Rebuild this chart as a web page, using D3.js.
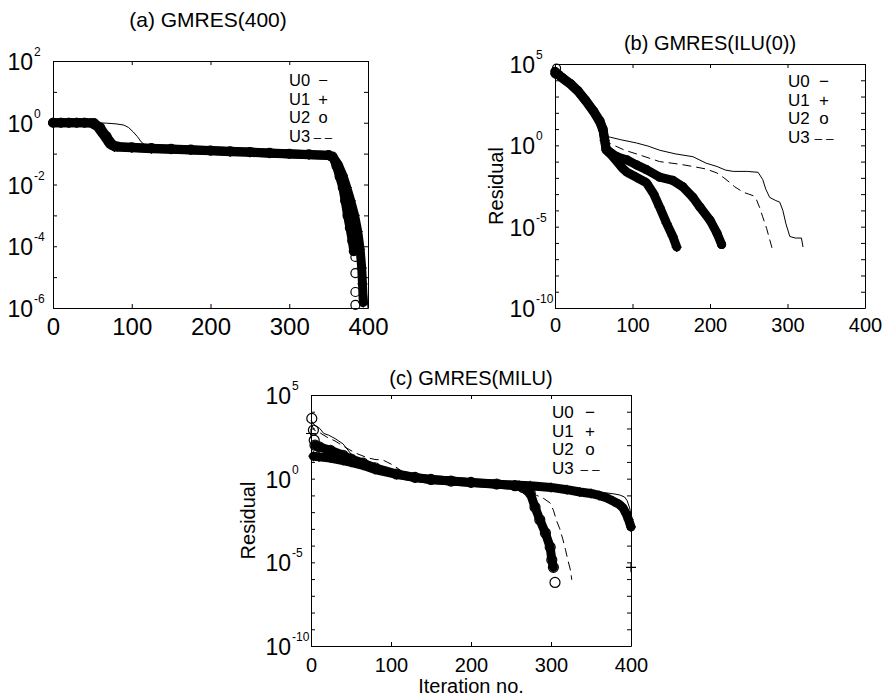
<!DOCTYPE html>
<html>
<head>
<meta charset="utf-8">
<script src="https://cdn.jsdelivr.net/npm/d3@7"></script>
<style>
  body { margin: 0; background: #fff; }
  svg  { display: block; }
  svg text { font-family: "Liberation Sans", Arial, sans-serif; }
</style>
</head>
<body>
<svg id="chart" width="883" height="698"></svg>
<script>
// x ticks shared by all three panels
const iterTicks = [0, 100, 200, 300, 400];
const legendNames = ['U0', 'U1', 'U2', 'U3'];
const legendMarks = ['\u2212', '+', 'o', '\u2013 \u2013'];

// (a) GMRES(400)  [iteration, residual]
const gmresU0 = [[0,1],[20,1],[40,1],[55,0.99],[68,0.97],[80,0.92],[90,0.84],[96,0.7],[102,0.5],[107,0.36],[112,0.24],[118,0.18],[150,0.145],[200,0.128],[250,0.113],[300,0.1],[350,0.09],[360,0.06],[370,0.02],[380,4e-3],[388,6e-4],[393,1e-4],[396,1.5e-5],[398,3e-6],[400,1e-6]];
const gmresU1 = [[0,1],[10,1],[20,1],[30,1],[40,1],[48,0.98],[56,0.75],[64,0.4],[72,0.2],[78,0.165],[100,0.155],[125,0.145],[150,0.138],[175,0.13],[200,0.123],[225,0.116],[250,0.11],[275,0.103],[300,0.097],[325,0.092],[350,0.087],[356,0.075],[362,0.045],[368,0.02],[373,8e-3],[378,3e-3],[383,1e-3],[387,3e-4],[390,8e-5],[392,2e-5],[393,6e-6],[394,1.5e-6]];
const gmresU2 = [[0,1],[10,1],[20,1],[30,1],[40,1],[52,0.98],[60,0.7],[68,0.36],[76,0.19],[82,0.17],[100,0.16],[125,0.15],[150,0.142],[175,0.134],[200,0.126],[225,0.119],[250,0.112],[275,0.105],[300,0.099],[325,0.094],[350,0.089],[355,0.08],[360,0.04],[364,0.018],[368,8e-3],[371,3e-3],[374,1e-3],[377,4e-4],[380,1.5e-4],[382,7e-5]];
const gmresU3 = [[0,1],[50,1],[58,0.7],[66,0.35],[74,0.19],[100,0.16],[200,0.125],[300,0.098],[352,0.088],[360,0.05],[368,0.015],[376,3e-3],[384,4e-4],[390,5e-5],[395,5e-6],[398,1e-6]];
const gmresU2Loose = [[384,4.5e-5],[384,1.35e-5],[384,3.3e-6],[384,1.26e-6]];

// (b) GMRES(ILU(0))
const iluU0 = [[0,3e4],[10,1.3e4],[20,6e3],[30,2e3],[40,520],[50,118],[58,28],[62,9],[66,3.5],[71,3.2],[85,2.2],[105,1.4],[120,0.9],[135,0.5],[155,0.3],[178,0.2],[195,0.08],[209,0.05],[220,0.03],[230,0.025],[248,0.025],[262,0.022],[268,8e-3],[272,2e-3],[277,6.3e-4],[285,4e-4],[290,3.2e-4],[294,1e-4],[298,1.5e-5],[303,2.5e-6],[310,2e-6],[318,2e-6],[320,5.6e-7]];
const iluU1 = [[0,2.5e4],[5,2e4],[10,1.26e4],[20,5.6e3],[30,2e3],[40,500],[50,112],[58,25],[62,8],[64,2],[66,0.5],[72,0.28],[80,0.1],[87,0.04],[93,0.022],[105,0.011],[118,5e-3],[127,1.1e-3],[135,1.6e-4],[144,1.6e-5],[152,2.5e-6],[157,5.6e-7]];
const iluU2 = [[0,3.5e4],[5,2.2e4],[10,1.4e4],[20,6.3e3],[30,2.2e3],[40,560],[50,126],[58,32],[62,10],[64,2.5],[66,0.63],[72,0.35],[80,0.2],[93,0.126],[105,0.063],[118,0.032],[135,0.011],[152,7e-3],[165,2.8e-3],[178,6.3e-4],[187,1.6e-4],[200,2.5e-5],[209,4e-6],[215,8e-7]];
const iluU3 = [[0,3e4],[20,6e3],[40,520],[58,27],[64,3],[68,1.5],[90,0.5],[110,0.25],[135,0.1],[160,0.07],[178,0.05],[195,0.035],[209,0.02],[218,0.01],[226,5e-3],[232,2.8e-3],[243,1.3e-3],[250,1e-3],[256,8e-4],[260,4.5e-4],[264,1.5e-4],[268,4e-5],[273,8e-6],[277,1.6e-6],[280,5e-7]];
const iluU2Loose = [[2,5.6e4]];

// (c) GMRES(MILU)
const miluU0 = [[0,3e3],[5,1.5e3],[11,1e3],[16,500],[22,400],[30,250],[40,120],[50,30],[65,9],[80,4],[107,1.9],[150,0.9],[200,0.6],[250,0.42],[300,0.3],[340,0.2],[360,0.16],[370,0.14],[380,0.12],[386,0.105],[392,0.08],[395,0.05],[398,0.02],[399,0.013],[400,5e-3]];
const miluU1 = [[3,22],[10,20],[24,17],[40,12],[50,9.5],[65,6.3],[80,3.5],[107,1.8],[130,1.15],[150,0.88],[175,0.72],[200,0.58],[232,0.46],[260,0.4],[274,0.38],[300,0.3],[320,0.22],[336,0.16],[350,0.13],[360,0.1],[370,0.07],[378,0.045],[385,0.03],[390,0.018],[394,8e-3],[397,3.5e-3],[400,1.3e-3]];
const miluU2 = [[5,100],[10,80],[24,50],[40,25],[50,15],[65,8.5],[80,4.5],[107,1.9],[130,1.2],[150,0.9],[175,0.72],[200,0.6],[232,0.48],[255,0.38],[265,0.3],[270,0.22],[274,0.14],[280,0.02],[286,3.5e-3],[293,5.6e-4],[299,8e-5],[301,1.4e-5],[303,5e-6]];
const miluU3 = [[0,2e3],[4,800],[10,600],[20,300],[30,180],[40,90],[55,35],[70,18],[80,14],[90,13],[103,6.3],[115,2.5],[130,1.5],[150,0.95],[200,0.62],[250,0.42],[268,0.35],[274,0.17],[282,0.1],[290,0.07],[299,0.035],[303,0.013],[307,3e-3],[311,1e-3],[315,2.2e-4],[318,6e-5],[321,1.4e-5],[324,4e-6],[326,9e-7]];
const miluU1Loose = [[0,500],[400,5e-6]];
const miluU2Loose = [[1,4e3],[3,800],[4,200],[305,6.3e-7]];

drawChart();

function drawChart() {
  let svg = d3.select('#chart');

  let panels = [
    { title: '(a) GMRES(400)', titleX: 208, titleY: 27, titleSize: 21,
      left: 53, top: 61, right: 368, bottom: 308, expMin: -6, expMax: 2, labelExps: [-6, -4, -2, 0, 2],
      xFont: 24, xPad: 10, legX: 289, legY: 86, legDy: 18.5, legFont: 16.5, legSymX: 323,
      band: 9, ring: 4.5,
      u0: gmresU0, u1: gmresU1, u2: gmresU2, u3: gmresU3, u1Loose: [], u2Loose: gmresU2Loose },
    { title: '(b) GMRES(ILU(0))', titleX: 710, titleY: 50, titleSize: 20,
      left: 555, top: 64, right: 865, bottom: 308, expMin: -10, expMax: 5, labelExps: [-10, -5, 0, 5],
      xFont: 20, xPad: 10, legX: 788, legY: 87, legDy: 18.5, legFont: 17, legSymX: 824,
      band: 9, ring: 4, yLabel: 'Residual', yLabelX: 503,
      u0: iluU0, u1: iluU1, u2: iluU2, u3: iluU3, u1Loose: [], u2Loose: iluU2Loose },
    { title: '(c) GMRES(MILU)', titleX: 471, titleY: 385, titleSize: 20,
      left: 311, top: 395, right: 631, bottom: 646, expMin: -10, expMax: 5, labelExps: [-10, -5, 0, 5],
      xFont: 20, xPad: 12, legX: 552, legY: 418, legDy: 18.5, legFont: 17, legSymX: 590,
      band: 9, ring: 5, yLabel: 'Residual', yLabelX: 255, xLabel: 'Iteration no.', xLabelY: 693,
      u0: miluU0, u1: miluU1, u2: miluU2, u3: miluU3, u1Loose: miluU1Loose, u2Loose: miluU2Loose }
  ];

  panels.forEach(p => drawPanel(svg, p));
}

function drawPanel(svg, p) {
  let x    = d3.scaleLinear().domain([0, 400]).range([p.left, p.right]),
      y    = d3.scaleLog().domain([10 ** p.expMin, 10 ** p.expMax]).range([p.bottom, p.top]),
      g    = svg.append('g'),
      line = d3.line().x(d => x(d[0])).y(d => y(d[1])),
      decades = d3.range(p.expMin, p.expMax + 1).map(e => 10 ** e);

  // thin lines: U0 solid, U3 dashed
  g.append('path').datum(p.u0)
    .attr('d', line).attr('fill', 'none').attr('stroke', '#000').attr('stroke-width', 1);
  g.append('path').datum(p.u3)
    .attr('d', line).attr('fill', 'none').attr('stroke', '#000').attr('stroke-width', 1)
    .attr('stroke-dasharray', '9,5');

  // dense markers overlap into a solid band
  [p.u1, p.u2].forEach(s => {
    g.append('path').datum(s)
      .attr('d', line).attr('fill', 'none').attr('stroke', '#000')
      .attr('stroke-width', p.band).attr('stroke-linejoin', 'round').attr('stroke-linecap', 'round');
  });

  // U1 plus markers
  g.selectAll('.plus')
    .data(p.u1.concat(p.u1Loose))
    .enter().append('path')
    .attr('class', 'plus')
    .attr('d', d => {
      let cx = x(d[0]), cy = y(d[1]), r = 5;
      return `M${cx - r},${cy}H${cx + r}M${cx},${cy - r}V${cy + r}`;
    })
    .attr('stroke', '#000').attr('stroke-width', 1.2);

  // U2 circle markers
  g.selectAll('.ring')
    .data(p.u2.concat(p.u2Loose))
    .enter().append('circle')
    .attr('class', 'ring')
    .attr('cx', d => x(d[0])).attr('cy', d => y(d[1])).attr('r', p.ring)
    .attr('fill', 'none').attr('stroke', '#000').attr('stroke-width', 1.2);

  // axes with inward ticks on all four sides
  let bottomAxis = g.append('g').attr('transform', `translate(0,${p.bottom})`)
    .call(d3.axisBottom(x).tickValues(iterTicks).tickSizeInner(-4).tickSizeOuter(0).tickPadding(p.xPad));
  bottomAxis.attr('font-family', null).attr('font-size', null);
  bottomAxis.selectAll('text').attr('font-size', p.xFont).attr('fill', '#000');
  g.append('g').attr('transform', `translate(0,${p.top})`)
    .call(d3.axisTop(x).tickValues(iterTicks).tickSizeInner(-4).tickSizeOuter(0).tickFormat(''));
  g.append('g').attr('transform', `translate(${p.left},0)`)
    .call(d3.axisLeft(y).tickValues(decades).tickSizeInner(-4).tickSizeOuter(0).tickFormat(''));
  g.append('g').attr('transform', `translate(${p.right},0)`)
    .call(d3.axisRight(y).tickValues(decades).tickSizeInner(-4).tickSizeOuter(0).tickFormat(''));
  g.selectAll('.domain, .tick line').attr('stroke', '#000');

  // y tick labels as 10 with a superscript exponent
  p.labelExps.forEach(e => {
    let ty = y(10 ** e);
    g.append('text').attr('x', p.left - 20).attr('y', ty + 9)
      .attr('text-anchor', 'end').attr('font-size', 23).text('10');
    g.append('text').attr('x', p.left - 19).attr('y', ty - 5)
      .attr('font-size', 12).text(String(e));
  });

  // title
  g.append('text').attr('x', p.titleX).attr('y', p.titleY)
    .attr('text-anchor', 'middle').attr('font-size', p.titleSize).text(p.title);

  // axis labels
  if (p.yLabel) {
    g.append('text')
      .attr('transform', `translate(${p.yLabelX},${(p.top + p.bottom) / 2}) rotate(-90)`)
      .attr('text-anchor', 'middle').attr('font-size', 20).text(p.yLabel);
  }
  if (p.xLabel) {
    g.append('text').attr('x', (p.left + p.right) / 2).attr('y', p.xLabelY)
      .attr('text-anchor', 'middle').attr('font-size', 20).text(p.xLabel);
  }

  // legend
  legendNames.forEach((name, i) => {
    let ly = p.legY + i * p.legDy;
    g.append('text').attr('x', p.legX).attr('y', ly).attr('font-size', p.legFont).text(name);
    g.append('text').attr('x', p.legSymX).attr('y', ly).attr('text-anchor', 'middle')
      .attr('font-size', i === 3 ? p.legFont * 0.8 : p.legFont).text(legendMarks[i]);
  });
}
</script>
</body>
</html>
